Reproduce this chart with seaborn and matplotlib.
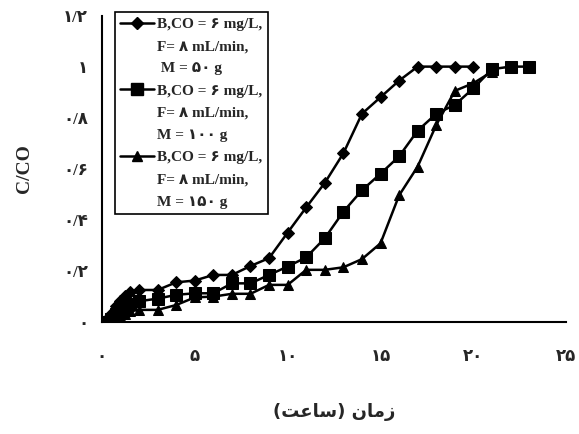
import numpy as np
import pandas as pd
import matplotlib
matplotlib.use("Agg")
import matplotlib.pyplot as plt
import seaborn as sns
from matplotlib.lines import Line2D

sns.set_theme(style="white")
plt.rcParams['font.family'] = ['Liberation Serif', 'DejaVu Sans']
plt.rcParams['font.weight'] = 'bold'

# time points (hours)
t_50 = [0, 0.25, 0.5, 0.75, 1, 1.25, 1.5, 2, 3, 4, 5, 6, 7, 8, 9, 10, 11, 12, 13,
        14, 15, 16, 17, 18, 19, 20]
c_50 = [0, 0.01, 0.03, 0.06, 0.08, 0.10, 0.115, 0.124, 0.124, 0.154, 0.161, 0.183,
        0.183, 0.218, 0.249, 0.349, 0.448, 0.544, 0.66, 0.815, 0.88, 0.945, 1.0,
        1.0, 1.0, 1.0]

t_100 = [0, 0.25, 0.5, 0.75, 1, 1.25, 1.5, 2, 3, 4, 5, 6, 7, 8, 9, 10, 11, 12, 13,
         14, 15, 16, 17, 18, 19, 20, 21, 22, 23]
c_100 = [0, 0.0, 0.01, 0.03, 0.05, 0.06, 0.07, 0.08, 0.09, 0.105, 0.111, 0.111,
         0.15, 0.15, 0.183, 0.216, 0.252, 0.327, 0.431, 0.515, 0.58, 0.648, 0.749,
         0.815, 0.85, 0.915, 0.99, 1.0, 1.0]

t_150 = [0, 0.25, 0.5, 0.75, 1, 1.25, 1.5, 2, 3, 4, 5, 6, 7, 8, 9, 10, 11, 12, 13,
         14, 15, 16, 17, 18, 19, 20, 21]
c_150 = [0, 0.0, 0.0, 0.01, 0.02, 0.03, 0.04, 0.046, 0.046, 0.065, 0.095, 0.098,
         0.109, 0.109, 0.144, 0.144, 0.203, 0.203, 0.213, 0.245, 0.307, 0.495, 0.608,
         0.771, 0.905, 0.935, 0.98]

legend_lines = [
    ["B,CO = ۶ mg/L,", "F= ۸ mL/min,", " M = ۵۰ g"],
    ["B,CO = ۶ mg/L,", "F= ۸ mL/min,", "M = ۱۰۰ g"],
    ["B,CO = ۶ mg/L,", "F= ۸ mL/min,", "M = ۱۵۰ g"],
]

x_ticks = [0, 5, 10, 15, 20, 25]
x_ticklabels = ["۰", "۵", "۱۰", "۱۵", "۲۰", "۲۵"]
y_ticks = [0, 0.2, 0.4, 0.6, 0.8, 1.0, 1.2]
y_ticklabels = ["۰", "۰/۲", "۰/۴", "۰/۶", "۰/۸", "۱", "۱/۲"]

# "زمان (ساعت)" written in shaped presentation forms, visual order
x_label = "(\uFE96\uFECB\uFE8E\uFEB3) \uFEE5\uFE8E\uFEE3\uFEAF"
y_label = "C/CO"

series = [
    (t_50, c_50, 'D', 6),
    (t_100, c_100, 's', 9),
    (t_150, c_150, '^', 7.5),
]

fig = plt.figure(figsize=(5.79, 4.34), dpi=100)
ax = fig.add_axes([0.176, 0.259, 0.802, 0.705])

for t, c, m, ms in series:
    df = pd.DataFrame({'t': t, 'c': c})
    sns.lineplot(data=df, x='t', y='c', ax=ax, color='black', linewidth=1.8,
                 marker=m, markersize=ms, markeredgecolor='black',
                 markerfacecolor='black', legend=False)

ax.set_xlim(0, 25)
ax.set_ylim(0, 1.2)
ax.set_xticks(x_ticks)
ax.set_xticklabels(x_ticklabels, fontsize=12, fontweight='bold')
ax.set_yticks(y_ticks)
ax.set_yticklabels(y_ticklabels, fontsize=12, fontweight='bold')
ax.tick_params(axis='x', direction='out', length=4, width=1, color='black', pad=16)
ax.tick_params(axis='y', direction='out', length=4, width=1, color='black', pad=6)
for s in ['top', 'right']:
    ax.spines[s].set_visible(False)
for s in ['left', 'bottom']:
    ax.spines[s].set_color('black')
    ax.spines[s].set_linewidth(1.5)

ax.set_xlabel(x_label, fontsize=13, fontweight='bold', family='DejaVu Sans', labelpad=27)
ax.set_ylabel(y_label, fontsize=14, fontweight='bold', labelpad=22)

# legend: handle only on the first line of each entry
handles, labels = [], []
for (t, c, m, ms), lines in zip(series, legend_lines):
    handles.append(Line2D([], [], color='black', lw=1.8, marker=m, markersize=ms))
    labels.append(lines[0])
    for extra in lines[1:]:
        handles.append(Line2D([], [], color='none'))
        labels.append(extra)

leg = ax.legend(handles, labels, loc='upper left', bbox_to_anchor=(0.028, 1.012),
                borderaxespad=0, frameon=True, fancybox=False, edgecolor='black',
                framealpha=1, handlelength=2.2, handletextpad=0.2, labelspacing=0.56,
                borderpad=0.35, prop={'size': 11, 'weight': 'bold'})
leg.get_frame().set_linewidth(1.2)

fig.savefig("out.png", dpi=100)
